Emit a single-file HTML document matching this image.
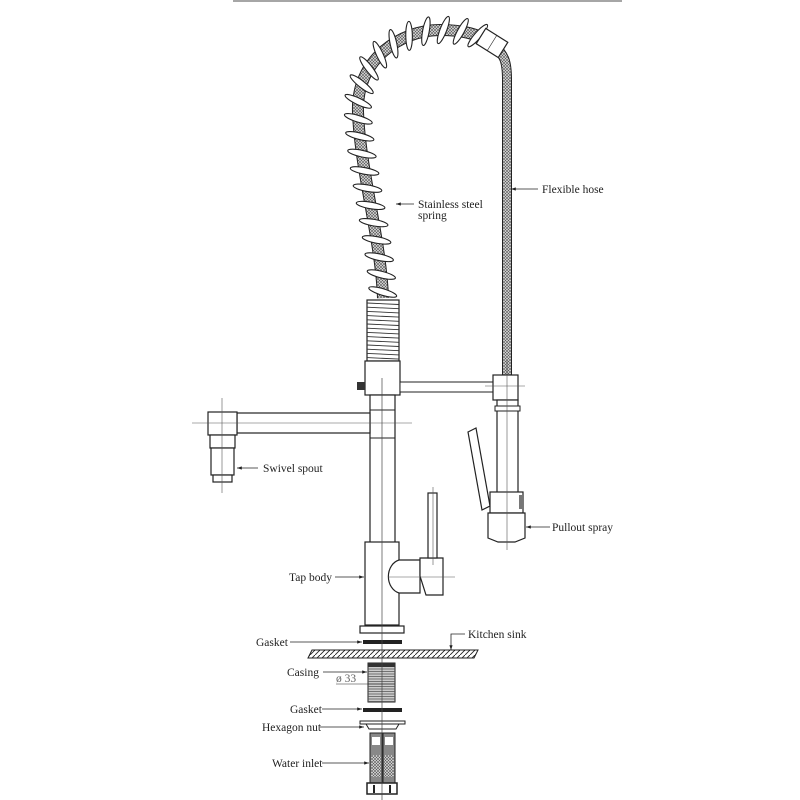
<!DOCTYPE html>
<html><head><meta charset="utf-8"><style>
html,body{margin:0;padding:0;background:#fff;}
svg{display:block;}
text{font-family:"Liberation Serif",serif;font-size:11.5px;fill:#222;}
</style></head><body>
<svg id="s" width="800" height="800" viewBox="0 0 800 800" xmlns="http://www.w3.org/2000/svg">
<defs>
<pattern id="mesh" width="3" height="3" patternUnits="userSpaceOnUse">
<rect width="3" height="3" fill="#ddd"/>
<path d="M0,0L3,3M3,0L0,3" stroke="#555" stroke-width="0.6"/>
</pattern>
<pattern id="hatch" width="5" height="5" patternUnits="userSpaceOnUse">
<path d="M0,5L5,0" stroke="#222" stroke-width="0.9"/>
</pattern>
<marker id="ar" markerWidth="6" markerHeight="6" refX="6" refY="3" orient="auto"><path d="M0,1L6,3L0,5z" fill="#222"/></marker>
</defs>
<line x1="233" y1="1" x2="622" y2="1" stroke="#888" stroke-width="1.5"/>

<path d="M492,43 C505,55 507,62 507,80 L507,377" fill="none" stroke="#222" stroke-width="10"/>
<path d="M492,43 C505,55 507,62 507,80 L507,377" fill="none" stroke="url(#mesh)" stroke-width="8"/>

<path id="hp" d="M383,298 C381,240 360,170 358,112 C356,60 400,30 440,30 C465,30 480,35 490,42" fill="none" stroke="#222" stroke-width="12"/>
<path d="M383,298 C381,240 360,170 358,112 C356,60 400,30 440,30 C465,30 480,35 490,42" fill="none" stroke="url(#mesh)" stroke-width="10"/>
<g id="coils"></g>
<g transform="translate(492,43) rotate(32)"><rect x="-13" y="-9" width="26" height="18" fill="#fff" stroke="#222" stroke-width="1.2"/><line x1="0" y1="-9" x2="0" y2="9" stroke="#222" stroke-width="0.6"/></g>

<rect x="367" y="300" width="32" height="61" fill="#fff" stroke="#222" stroke-width="1.2"/>
<g id="thr" stroke="#333" stroke-width="0.9"></g>

<rect x="365" y="361" width="35" height="34" fill="#fff" stroke="#222" stroke-width="1.2"/>
<rect x="357" y="382" width="8" height="8" fill="#333"/>
<rect x="400" y="382" width="93" height="10" fill="#fff" stroke="#222" stroke-width="1"/>
<rect x="493" y="375" width="25" height="25" fill="#fff" stroke="#222" stroke-width="1.2"/>

<rect x="370" y="395" width="25" height="148" fill="#fff" stroke="#222" stroke-width="1.2"/>
<line x1="370" y1="410" x2="395" y2="410" stroke="#222"/>
<line x1="370" y1="438" x2="395" y2="438" stroke="#222"/>

<rect x="237" y="413" width="133" height="20" fill="#fff" stroke="#222" stroke-width="1.2"/>
<rect x="208" y="412" width="29" height="23" fill="#fff" stroke="#222" stroke-width="1.2"/>
<rect x="210" y="435" width="25" height="13" fill="#fff" stroke="#222" stroke-width="1.2"/>
<rect x="211" y="448" width="23" height="27" fill="#fff" stroke="#222" stroke-width="1.2"/>
<rect x="213" y="475" width="19" height="7" fill="#fff" stroke="#222" stroke-width="1.2"/>
<line x1="192" y1="423" x2="412" y2="423" stroke="#555" stroke-width="0.6"/>
<line x1="222" y1="398" x2="222" y2="493" stroke="#555" stroke-width="0.6"/>

<rect x="497" y="400" width="21" height="95" fill="#fff" stroke="#222" stroke-width="1.2"/>
<rect x="495" y="406" width="25" height="5" fill="#fff" stroke="#222" stroke-width="1"/>
<path d="M468,432 L476,428 L490,506 L482,510 Z" fill="#fff" stroke="#222" stroke-width="1.2"/>
<rect x="490" y="492" width="33" height="21" fill="#fff" stroke="#222" stroke-width="1.2"/>
<rect x="519" y="495" width="4" height="14" fill="#777"/>
<path d="M488,513 L525,513 L525,538 L515,542 L498,542 L488,538 Z" fill="#fff" stroke="#222" stroke-width="1.2"/>
<line x1="507" y1="360" x2="507" y2="550" stroke="#555" stroke-width="0.6"/>
<line x1="485" y1="386" x2="525" y2="386" stroke="#555" stroke-width="0.6"/>

<rect x="365" y="542" width="34" height="83" fill="#fff" stroke="#222" stroke-width="1.2"/>
<rect x="360" y="626" width="44" height="7" fill="#fff" stroke="#222" stroke-width="1.2"/>
<path d="M399,560 L420,560 L420,593 L399,593 A14,17 0 0 1 399,560 Z" fill="#fff" stroke="#222" stroke-width="1.2"/>
<path d="M420,558 L443,558 L443,595 L426,595 L420,576 Z" fill="#fff" stroke="#222" stroke-width="1.2"/>
<rect x="428" y="493" width="9" height="65" fill="#fff" stroke="#222" stroke-width="1.2"/>
<line x1="388" y1="577" x2="455" y2="577" stroke="#555" stroke-width="0.6"/>
<line x1="433" y1="487" x2="433" y2="565" stroke="#555" stroke-width="0.6"/>

<rect x="363" y="640" width="39" height="4" fill="#222"/>
<path d="M308,658 L312,650 L478,650 L474,658 Z" fill="url(#hatch)" stroke="#222" stroke-width="1"/>
<rect x="368" y="663" width="27" height="39" fill="#ccc" stroke="#222" stroke-width="1"/>
<g id="cas" stroke="#555" stroke-width="0.7"></g>
<rect x="368" y="663" width="27" height="4" fill="#333"/>
<rect x="363" y="708" width="39" height="4" fill="#222"/>
<rect x="360" y="721" width="45" height="3" fill="#fff" stroke="#222"/>
<path d="M366,724 L399,724 L396,729 L369,729 Z" fill="#fff" stroke="#222"/>
<rect x="370" y="733" width="12" height="50" fill="#888" stroke="#222"/>
<rect x="383" y="733" width="12" height="50" fill="#888" stroke="#222"/>
<rect x="372" y="737" width="8" height="8" fill="#fff"/><rect x="385" y="737" width="8" height="8" fill="#fff"/>
<rect x="371" y="755" width="10" height="22" fill="url(#mesh)"/><rect x="384" y="755" width="10" height="22" fill="url(#mesh)"/>
<rect x="367" y="783" width="30" height="11" fill="#fff" stroke="#222" stroke-width="1.5"/>
<line x1="374" y1="785" x2="374" y2="793" stroke="#222" stroke-width="2"/><line x1="390" y1="785" x2="390" y2="793" stroke="#222" stroke-width="2"/>
<line x1="382" y1="378" x2="382" y2="800" stroke="#444" stroke-width="0.7"/>

<g stroke="#222" stroke-width="0.8" fill="none">
<line x1="414" y1="204" x2="396" y2="204" marker-end="url(#ar)"/>
<line x1="538" y1="189" x2="511" y2="189" marker-end="url(#ar)"/>
<line x1="258" y1="468" x2="237" y2="468" marker-end="url(#ar)"/>
<line x1="550" y1="527" x2="526" y2="527" marker-end="url(#ar)"/>
<line x1="335" y1="577" x2="364" y2="577" marker-end="url(#ar)"/>
<line x1="290" y1="642" x2="362" y2="642" marker-end="url(#ar)"/>
<polyline points="465,634 451,634 451,650" marker-end="url(#ar)"/>
<line x1="323" y1="672" x2="367" y2="672" marker-end="url(#ar)"/>
<line x1="336" y1="684" x2="395" y2="684" stroke-width="0.6"/>
<line x1="322" y1="709" x2="362" y2="709" marker-end="url(#ar)"/>
<line x1="320" y1="727" x2="364" y2="727" marker-end="url(#ar)"/>
<line x1="322" y1="763" x2="369" y2="763" marker-end="url(#ar)"/>
</g>
<text x="418" y="208">Stainless steel</text>
<text x="418" y="219">spring</text>
<text x="542" y="193">Flexible hose</text>
<text x="263" y="472">Swivel spout</text>
<text x="552" y="531">Pullout spray</text>
<text x="289" y="581">Tap body</text>
<text x="256" y="646">Gasket</text>
<text x="468" y="638">Kitchen sink</text>
<text x="287" y="676">Casing</text>
<text x="336" y="682" style="fill:#666">ø 33</text>
<text x="290" y="713">Gasket</text>
<text x="262" y="731">Hexagon nut</text>
<text x="272" y="767">Water inlet</text>
</svg>
<script>
var ns="http://www.w3.org/2000/svg";
var p=document.getElementById('hp'),L=p.getTotalLength(),g=document.getElementById('coils');
for(var d=6;d<L-8;d+=17.5){var a=p.getPointAtLength(d),b=p.getPointAtLength(d+1);
var ang=Math.atan2(b.y-a.y,b.x-a.x)*180/Math.PI+90+20;
var e=document.createElementNS(ns,'ellipse');e.setAttribute('cx',a.x);e.setAttribute('cy',a.y);
e.setAttribute('rx',14.5);e.setAttribute('ry',3.3);e.setAttribute('fill','#fff');e.setAttribute('stroke','#222');e.setAttribute('stroke-width','1.1');
e.setAttribute('transform','rotate('+ang+' '+a.x+' '+a.y+')');g.appendChild(e);}
var t=document.getElementById('thr');
for(var y=303;y<360;y+=4.2){var l=document.createElementNS(ns,'line');l.setAttribute('x1',367);l.setAttribute('x2',399);l.setAttribute('y1',y);l.setAttribute('y2',y+1.5);t.appendChild(l);}
var c=document.getElementById('cas');
for(var y=669;y<702;y+=2.5){var l=document.createElementNS(ns,'line');l.setAttribute('x1',368);l.setAttribute('x2',395);l.setAttribute('y1',y);l.setAttribute('y2',y);c.appendChild(l);}
</script>
</body></html>
